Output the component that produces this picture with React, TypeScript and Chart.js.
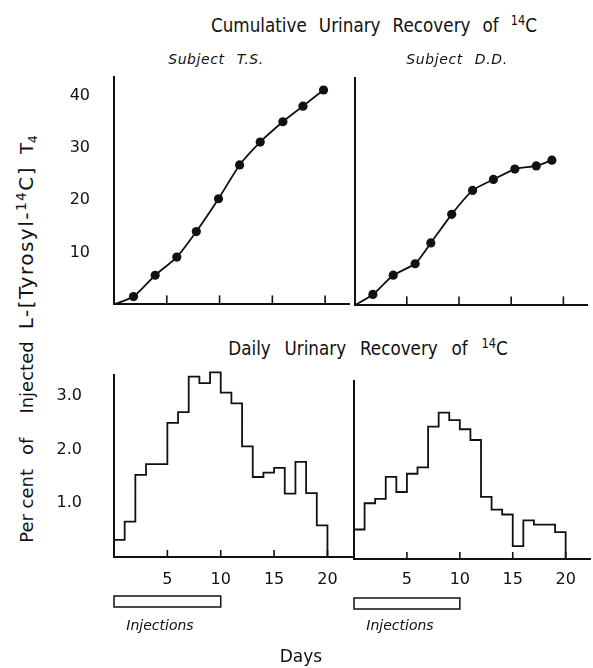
import React, { useEffect, useRef } from "react";
import { Chart, registerables } from "chart.js";
Chart.register(...registerables);

// ---------- data ----------
const cumDaysTS = [1.85, 3.9, 5.95, 7.8, 9.9, 11.9, 13.85, 16.0, 17.9, 19.85];
const cumTS = [1.5, 5.6, 9.1, 14.0, 20.3, 26.8, 31.2, 35.1, 38.1, 41.2];
const cumDaysDD = [1.75, 3.7, 5.8, 7.3, 9.3, 11.3, 13.3, 15.35, 17.4, 18.9];
const cumDD = [2.1, 5.8, 8.0, 12.0, 17.5, 22.1, 24.2, 26.2, 26.8, 27.9];

const dailyStartTS = [0, 1, 2, 3, 5, 6, 7, 8, 9, 10, 11, 12, 13, 14, 15, 16, 17, 18, 19];
const dailyEndTS = [1, 2, 3, 5, 6, 7, 8, 9, 10, 11, 12, 13, 14, 15, 16, 17, 18, 19, 20];
const dailyTS = [0.32, 0.66, 1.53, 1.73, 2.5, 2.7, 3.36, 3.24, 3.44, 3.06, 2.86, 2.06, 1.49, 1.57, 1.66, 1.18, 1.77, 1.19, 0.59];

const dailyStartDD = [0, 1, 2, 3, 4, 5, 6, 7, 8, 9, 10, 11, 12, 13, 14, 15, 16, 17, 19];
const dailyEndDD = [1, 2, 3, 4, 5, 6, 7, 8, 9, 10, 11, 12, 13, 14, 15, 16, 17, 19, 20];
const dailyDD = [0.55, 1.04, 1.12, 1.53, 1.25, 1.59, 1.71, 2.47, 2.73, 2.59, 2.42, 2.22, 1.16, 0.92, 0.83, 0.24, 0.72, 0.64, 0.5];

const dayTicks = [5, 10, 15, 20];
const cumTicks = [10, 20, 30, 40];
const dailyTicks = [1, 2, 3];
const injectionDays = [0, 10];

// ---------- helpers ----------
const INK = "#111";
const FONT = "'DejaVu Sans', 'Liberation Sans', sans-serif";

const innerTicks = {
  id: "innerTicks",
  afterDatasetsDraw(chart: any, _a: any, opts: any) {
    const { ctx, chartArea, scales } = chart;
    const x = scales.x;
    ctx.save();
    ctx.strokeStyle = INK;
    ctx.lineWidth = 1.6;
    for (const v of opts.values || []) {
      const px = x.getPixelForValue(v);
      ctx.beginPath();
      ctx.moveTo(px, chartArea.bottom);
      ctx.lineTo(px, chartArea.bottom - opts.length);
      ctx.stroke();
    }
    ctx.restore();
  },
};

const injectionBox = {
  id: "injectionBox",
  afterDraw(chart: any, _a: any, opts: any) {
    if (!opts || !opts.range) return;
    const { ctx, chartArea, scales } = chart;
    const x = scales.x;
    const x0 = x.getPixelForValue(opts.range[0]);
    const x1 = x.getPixelForValue(opts.range[1]);
    ctx.save();
    ctx.strokeStyle = INK;
    ctx.lineWidth = 1.5;
    ctx.strokeRect(x0, chartArea.bottom + opts.offset, x1 - x0, opts.height);
    ctx.restore();
  },
};

function cumulativeData(days: number[], vals: number[]) {
  return [{ x: 0, y: 0 }, ...days.map((d, i) => ({ x: d, y: vals[i] }))];
}

function stepData(starts: number[], ends: number[], vals: number[]) {
  const pts: { x: number; y: number }[] = [{ x: starts[0], y: 0 }];
  vals.forEach((v, i) => {
    pts.push({ x: starts[i], y: v });
    pts.push({ x: ends[i], y: v });
  });
  pts.push({ x: ends[ends.length - 1], y: 0 });
  return pts;
}

type PanelProps = {
  area: { left: number; top: number; right: number; bottom: number };
  yW: number;
  xH: number;
  padTop: number;
  xMax: number;
  yMax: number;
  yTicks: number[];
  yFmt: (v: number) => string;
  showY: boolean;
  yPad: number;
  showX: boolean;
  xPad: number;
  tickLen: number;
  dataset: any;
  injection?: boolean;
};

function Panel(p: PanelProps) {
  const ref = useRef<HTMLCanvasElement>(null);
  const cl = p.area.left - p.yW;
  const ct = p.area.top - p.padTop;
  const w = p.area.right - cl + 2;
  const h = p.area.bottom + p.xH - ct;
  useEffect(() => {
    const chart = new Chart(ref.current as HTMLCanvasElement, {
      type: "line",
      data: { datasets: [p.dataset] },
      plugins: [innerTicks, injectionBox],
      options: {
        animation: false,
        responsive: false,
        maintainAspectRatio: false,
        layout: { padding: { top: p.padTop, right: 2, left: 0, bottom: 0 } },
        plugins: {
          legend: { display: false },
          tooltip: { enabled: false },
          innerTicks: { values: dayTicks, length: p.tickLen },
          injectionBox: p.injection ? { range: injectionDays, offset: 39, height: 11 } : {},
        } as any,
        scales: {
          x: {
            type: "linear",
            min: 0,
            max: p.xMax,
            grid: { display: false, drawTicks: false },
            border: { display: true, color: INK, width: 2 },
            ticks: {
              display: p.showX,
              padding: p.xPad,
              color: INK,
              font: { family: FONT, size: 16 },
              callback: (v: any) => String(v),
            },
            afterBuildTicks: (s: any) => {
              s.ticks = dayTicks.map((v) => ({ value: v }));
            },
            afterFit: (s: any) => {
              s.height = p.xH;
              s.paddingLeft = 0;
              s.paddingRight = 0;
            },
          },
          y: {
            type: "linear",
            min: 0,
            max: p.yMax,
            grid: { display: false, drawTicks: false },
            border: { display: true, color: INK, width: 2 },
            ticks: {
              display: p.showY,
              padding: p.yPad,
              color: INK,
              font: { family: FONT, size: 16 },
              callback: (v: any) => p.yFmt(Number(v)),
            },
            afterBuildTicks: (s: any) => {
              s.ticks = p.yTicks.map((v) => ({ value: v }));
            },
            afterFit: (s: any) => {
              s.width = p.yW;
              s.paddingTop = 0;
              s.paddingBottom = 0;
            },
          },
        },
      } as any,
    });
    return () => chart.destroy();
  }, []);
  return (
    <canvas
      ref={ref}
      width={w}
      height={h}
      style={{ position: "absolute", left: cl, top: ct, width: w, height: h, display: "block" }}
    />
  );
}

const lineDs = (data: any[]) => ({
  data,
  borderColor: INK,
  borderWidth: 1.8,
  pointRadius: (c: any) => (c.dataIndex === 0 ? 0 : 4.6),
  pointBackgroundColor: INK,
  pointBorderWidth: 0,
  tension: 0.2,
  clip: false,
});

const stepDs = (data: any[]) => ({
  data,
  borderColor: INK,
  borderWidth: 1.8,
  pointRadius: 0,
  tension: 0,
  clip: false,
});

const Sup = ({ children }: any) => (
  <span style={{ fontSize: "0.68em", position: "relative", top: "-0.55em" }}>{children}</span>
);
const Sub = ({ children }: any) => (
  <span style={{ fontSize: "0.68em", position: "relative", top: "0.3em" }}>{children}</span>
);
const Gap = ({ w }: { w: number }) => <span style={{ display: "inline-block", width: w }} />;

function Label({ x, y, size, italic, weight, rotate, spacing, letter, sx, children }: any) {
  let t = "translate(-50%, -50%)";
  if (rotate) t += ` rotate(${rotate}deg)`;
  if (sx) t += ` scaleX(${sx})`;
  return (
    <div
      style={{
        position: "absolute",
        left: x,
        top: y,
        transform: t,
        whiteSpace: "nowrap",
        fontSize: size,
        fontStyle: italic ? "italic" : "normal",
        fontWeight: weight || 400,
        wordSpacing: spacing || 0,
        letterSpacing: letter || 0,
        lineHeight: 1,
        color: INK,
        fontFamily: FONT,
      }}
    >
      {children}
    </div>
  );
}

export default function App() {
  const fmt0 = (v: number) => String(v);
  const fmt1 = (v: number) => v.toFixed(1);
  return (
    <div style={{ position: "absolute", left: 0, top: 0, width: 593, height: 668, background: "#fff", overflow: "hidden" }}>
      <Panel
        area={{ left: 114, top: 77, right: 352, bottom: 305 }}
        yW={74} xH={4} padTop={8} xMax={22.3} yMax={43.7}
        yTicks={cumTicks} yFmt={fmt0} showY yPad={24} showX={false} xPad={0} tickLen={9}
        dataset={lineDs(cumulativeData(cumDaysTS, cumTS))}
      />
      <Panel
        area={{ left: 354, top: 78, right: 590, bottom: 306 }}
        yW={4} xH={4} padTop={8} xMax={22.3} yMax={43.7}
        yTicks={cumTicks} yFmt={fmt0} showY={false} yPad={0} showX={false} xPad={0} tickLen={9}
        dataset={lineDs(cumulativeData(cumDaysDD, cumDD))}
      />
      <Panel
        area={{ left: 114, top: 375, right: 352, bottom: 557 }}
        yW={74} xH={62} padTop={10} xMax={22.3} yMax={3.39}
        yTicks={dailyTicks} yFmt={fmt1} showY yPad={32} showX xPad={13} tickLen={7}
        dataset={stepDs(stepData(dailyStartTS, dailyEndTS, dailyTS))} injection
      />
      <Panel
        area={{ left: 354, top: 381, right: 590, bottom: 559 }}
        yW={4} xH={60} padTop={10} xMax={22.3} yMax={3.32}
        yTicks={dailyTicks} yFmt={fmt1} showY={false} yPad={0} showX xPad={11} tickLen={7}
        dataset={stepDs(stepData(dailyStartDD, dailyEndDD, dailyDD))} injection
      />

      <Label x={374} y={25} size={20} spacing={8} sx={0.84}>
        Cumulative Urinary Recovery of <Sup>14</Sup>C
      </Label>
      <Label x={216} y={59} size={14} italic spacing={7} letter={0.6}>Subject T.S.</Label>
      <Label x={457} y={59} size={14} italic spacing={7} letter={0.6}>Subject D.D.</Label>
      <Label x={368} y={348} size={20} spacing={10} sx={0.84}>
        Daily Urinary Recovery of <Sup>14</Sup>C
      </Label>
      <Label x={26} y={339} size={18} rotate={-90}>
        Per cent<Gap w={14} />of<Gap w={24} />Injected<Gap w={12} />
        <span style={{ fontSize: 20, letterSpacing: 1.5 }}>L-[Tyrosyl-<Sup>14</Sup>C]</span>
        <Gap w={12} />T<Sub>4</Sub>
      </Label>
      <Label x={160} y={625} size={14} italic>Injections</Label>
      <Label x={400} y={625} size={14} italic>Injections</Label>
      <Label x={301} y={656} size={17}>Days</Label>
    </div>
  );
}
